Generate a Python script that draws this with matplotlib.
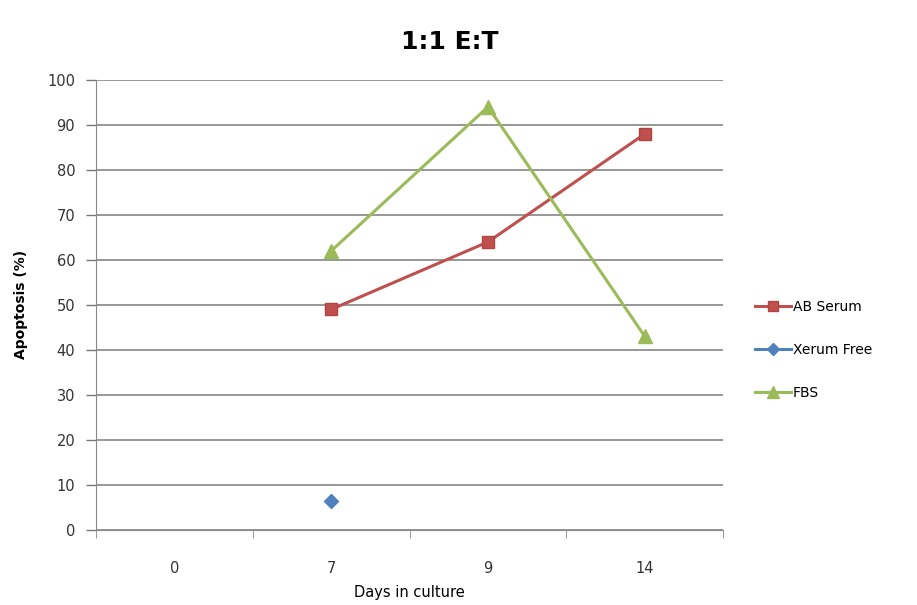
import matplotlib
matplotlib.use("Agg")
import matplotlib.pyplot as plt
import numpy as np

days = ["0", "7", "9", "14"]
ab_serum = [np.nan, 49, 64, 88]
xerum_free = [np.nan, 6.5, np.nan, np.nan]
fbs = [np.nan, 62, 94, 43]
yticks = list(range(0, 101, 10))

fig = plt.figure(figsize=(9.17, 6.05), dpi=100)
ax = fig.add_axes([0.1047, 0.124, 0.684, 0.744])

x = np.arange(len(days))
ax.plot(x, ab_serum, color="#C0504D", lw=2.2, marker="s", ms=9,
        markerfacecolor="#C0504D", markeredgecolor="#B04440", label="AB Serum", zorder=3)
ax.plot(x, xerum_free, color="#4F81BD", lw=2.2, marker="D", ms=7,
        label="Xerum Free", zorder=3)
ax.plot(x, fbs, color="#9BBB59", lw=2.2, marker="^", ms=10,
        label="FBS", zorder=3)

ax.set_xlim(-0.5, len(days) - 0.5)
ax.set_ylim(0, 100)
ax.set_yticks(yticks)
ax.set_yticklabels([str(v) for v in yticks], fontsize=10.5, color="#333333")
ax.set_xticks(x)
ax.set_xticklabels(days, fontsize=10.5, color="#333333")
ax.set_xticks(np.arange(-0.5, len(days), 1), minor=True)
ax.tick_params(axis="x", which="major", length=0, pad=22)
ax.tick_params(axis="x", which="minor", length=6, color="#888888", direction="out")
ax.tick_params(axis="y", length=7, color="#777777", width=1, pad=8)

ax.grid(axis="y", color="#7a7a7a", lw=1.1)
ax.set_axisbelow(True)
for s in ["top", "right"]:
    ax.spines[s].set_visible(False)
ax.spines["left"].set_color("#888888")
ax.spines["bottom"].set_color("#888888")

ax.set_ylabel("Apoptosis (%)", fontsize=10, fontweight="bold", labelpad=14)
ax.set_xlabel("Days in culture", fontsize=10.5, labelpad=7)
fig.text(0.49, 0.93, "1:1 E:T", fontsize=18, fontweight="bold", ha="center", va="center")

leg = fig.legend(loc="upper left", bbox_to_anchor=(0.81, 0.525), frameon=False,
                 fontsize=10, handlelength=2.6, labelspacing=2.1, handletextpad=0.1,
                 markerscale=0.85)

fig.savefig("out.png", dpi=100)
